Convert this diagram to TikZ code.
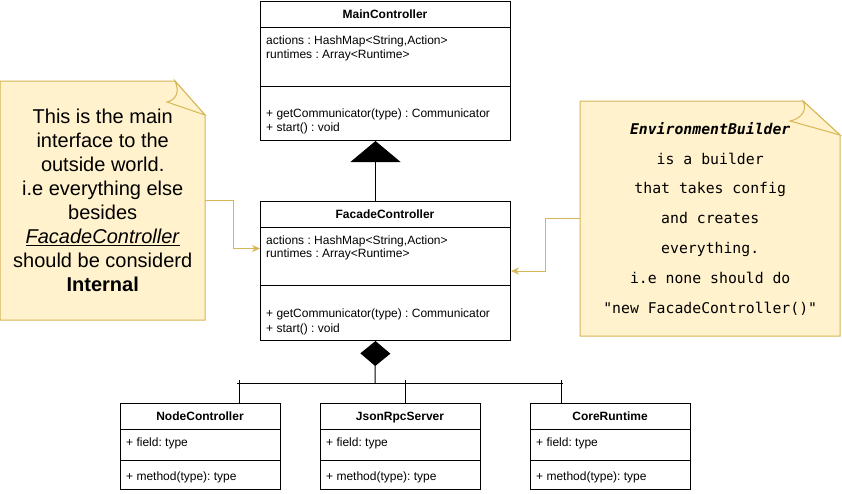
\documentclass[tikz,border=0pt]{standalone}
\usepackage{fontspec}
\setmainfont{Liberation Sans}
\newfontfamily\codefont{DejaVu Sans Mono}[BoldFont={DejaVu Sans Mono Bold},ItalicFont={DejaVu Sans Mono Oblique},BoldItalicFont={DejaVu Sans Mono Bold Oblique}]
\usetikzlibrary{arrows.meta}
\definecolor{notefill}{HTML}{FFF2CC}
\definecolor{notestroke}{HTML}{D6B656}
\frenchspacing
\tikzset{
  classbox/.style={draw=black, line width=1pt, fill=white, inner sep=0pt, anchor=north west},
  ctitle/.style={font=\fontsize{12}{14}\selectfont\bfseries, anchor=base, inner sep=0pt},
  ctext/.style={font=\fontsize{12}{14}\selectfont, anchor=base west, inner sep=0pt},
  sepline/.style={line width=1pt},
  notebody/.style={fill=notefill, draw=notestroke, line width=1pt, line join=miter},
  notelink/.style={draw=notestroke, line width=1pt, -{Stealth[length=8pt,width=7pt,inset=2.5pt]}},
  umledge/.style={draw=black, line width=1pt},
}
\begin{document}
\begin{tikzpicture}[x=1pt,y=-1pt]
\path[use as bounding box, fill=white] (0,0) rectangle (842,493);

% ---------- notes ----------
\draw[notebody] (0,81) -- (175,81) -- (205,115) -- (205,320) -- (0,320) -- cycle;
\draw[notebody] (175,81) .. controls (180,92) and (176,100) .. (167,102) -- (205,115) -- cycle;
\node[minimum width=205pt, minimum height=239pt, anchor=north west, inner sep=0pt,
      align=center, font=\fontsize{20}{24}\selectfont] (leftnote) at (0,81)
  {This is the main\\interface to the\\outside world.\\i.e everything else\\besides\\\underline{\textit{FacadeController}}\\should be considerd\\\textbf{Internal}};

\draw[notebody] (580,101) -- (803,101) -- (840,135) -- (840,336) -- (580,336) -- cycle;
\draw[notebody] (803,101) .. controls (808,111) and (800,119) .. (790,121) -- (840,135) -- cycle;
\node[minimum width=260pt, minimum height=235pt, anchor=north west, inner sep=0pt,
      align=center, font=\codefont\fontsize{14.8}{29.8}\selectfont] (rightnote) at (580,101)
  {\textbf{\textit{EnvironmentBuilder}}\\is a builder\\that takes config\\and creates\\everything.\\i.e none should do\\"new FacadeController()"};

% ---------- MainController ----------
\node[classbox, minimum width=250pt, minimum height=139pt] (main) at (260,1) {};
\draw[sepline] (260,27) -- (510,27);
\draw[sepline] (260,86) -- (510,86);
\node[ctitle] (maint) at (385,18.3) {MainController};
\node[ctext] (maina1) at (266,44.8) {actions : HashMap<String,Action>};
\node[ctext] (maina2) at (266,58) {runtimes : Array<Runtime>};
\node[ctext] (mainm1) at (266,117.6) {+ getCommunicator(type) : Communicator};
\node[ctext] (mainm2) at (266,131) {+ start() : void};

% ---------- FacadeController ----------
\node[classbox, minimum width=250pt, minimum height=139pt] (facade) at (260,201) {};
\draw[sepline] (260,227) -- (510,227);
\draw[sepline] (260,285) -- (510,285);
\node[ctitle] (facadet) at (385,218.3) {FacadeController};
\node[ctext] (facadea1) at (266,244.3) {actions : HashMap<String,Action>};
\node[ctext] (facadea2) at (266,257.6) {runtimes : Array<Runtime>};
\node[ctext] (facadem1) at (266,317.6) {+ getCommunicator(type) : Communicator};
\node[ctext] (facadem2) at (266,332) {+ start() : void};

% ---------- children ----------
\node[classbox, minimum width=160pt, minimum height=86pt] (nc) at (120,403) {};
\draw[sepline] (120,429) -- (280,429);
\draw[sepline] (120,460) -- (280,460);
\node[ctitle] (nct) at (200,420.3) {NodeController};
\node[ctext] (ncf) at (126,446.3) {+ field: type};
\node[ctext] (ncm) at (126,480.3) {+ method(type): type};

\node[classbox, minimum width=160pt, minimum height=86pt] (js) at (320,403) {};
\draw[sepline] (320,429) -- (480,429);
\draw[sepline] (320,460) -- (480,460);
\node[ctitle] (jst) at (400,420.3) {JsonRpcServer};
\node[ctext] (jsf) at (326,446.3) {+ field: type};
\node[ctext] (jsm) at (326,480.3) {+ method(type): type};

\node[classbox, minimum width=160pt, minimum height=86pt] (cr) at (530,403) {};
\draw[sepline] (530,429) -- (690,429);
\draw[sepline] (530,460) -- (690,460);
\node[ctitle] (crt) at (610,420.3) {CoreRuntime};
\node[ctext] (crf) at (536,446.3) {+ field: type};
\node[ctext] (crm) at (536,480.3) {+ method(type): type};

% ---------- connectors ----------
\draw[umledge, -{Triangle[length=21pt,width=50pt]}] ([xshift=-10pt]facade.north) -- ([xshift=-10pt]main.south);

\coordinate (junction) at (375,383);
\coordinate (busL) at (237,383);
\coordinate (busR) at (563,383);
\draw[umledge, {Diamond[length=25pt,width=30pt]}-] ([xshift=-10pt]facade.south) -- (junction);
\draw[umledge] (busL) -- (busR);
\draw[umledge] ([xshift=39pt]nc.north) -- ++(0,-23);
\draw[umledge] ([xshift=5pt]js.north) -- ++(0,-23);
\draw[umledge] ([xshift=-49pt]cr.north) -- ++(0,-23);

\draw[notelink] (leftnote.east) -- ++(28,0) |- ([yshift=22.5pt]facade.west);
\draw[notelink] (rightnote.west) -- ++(-35,0) |- (facade.east);
\end{tikzpicture}
\end{document}
